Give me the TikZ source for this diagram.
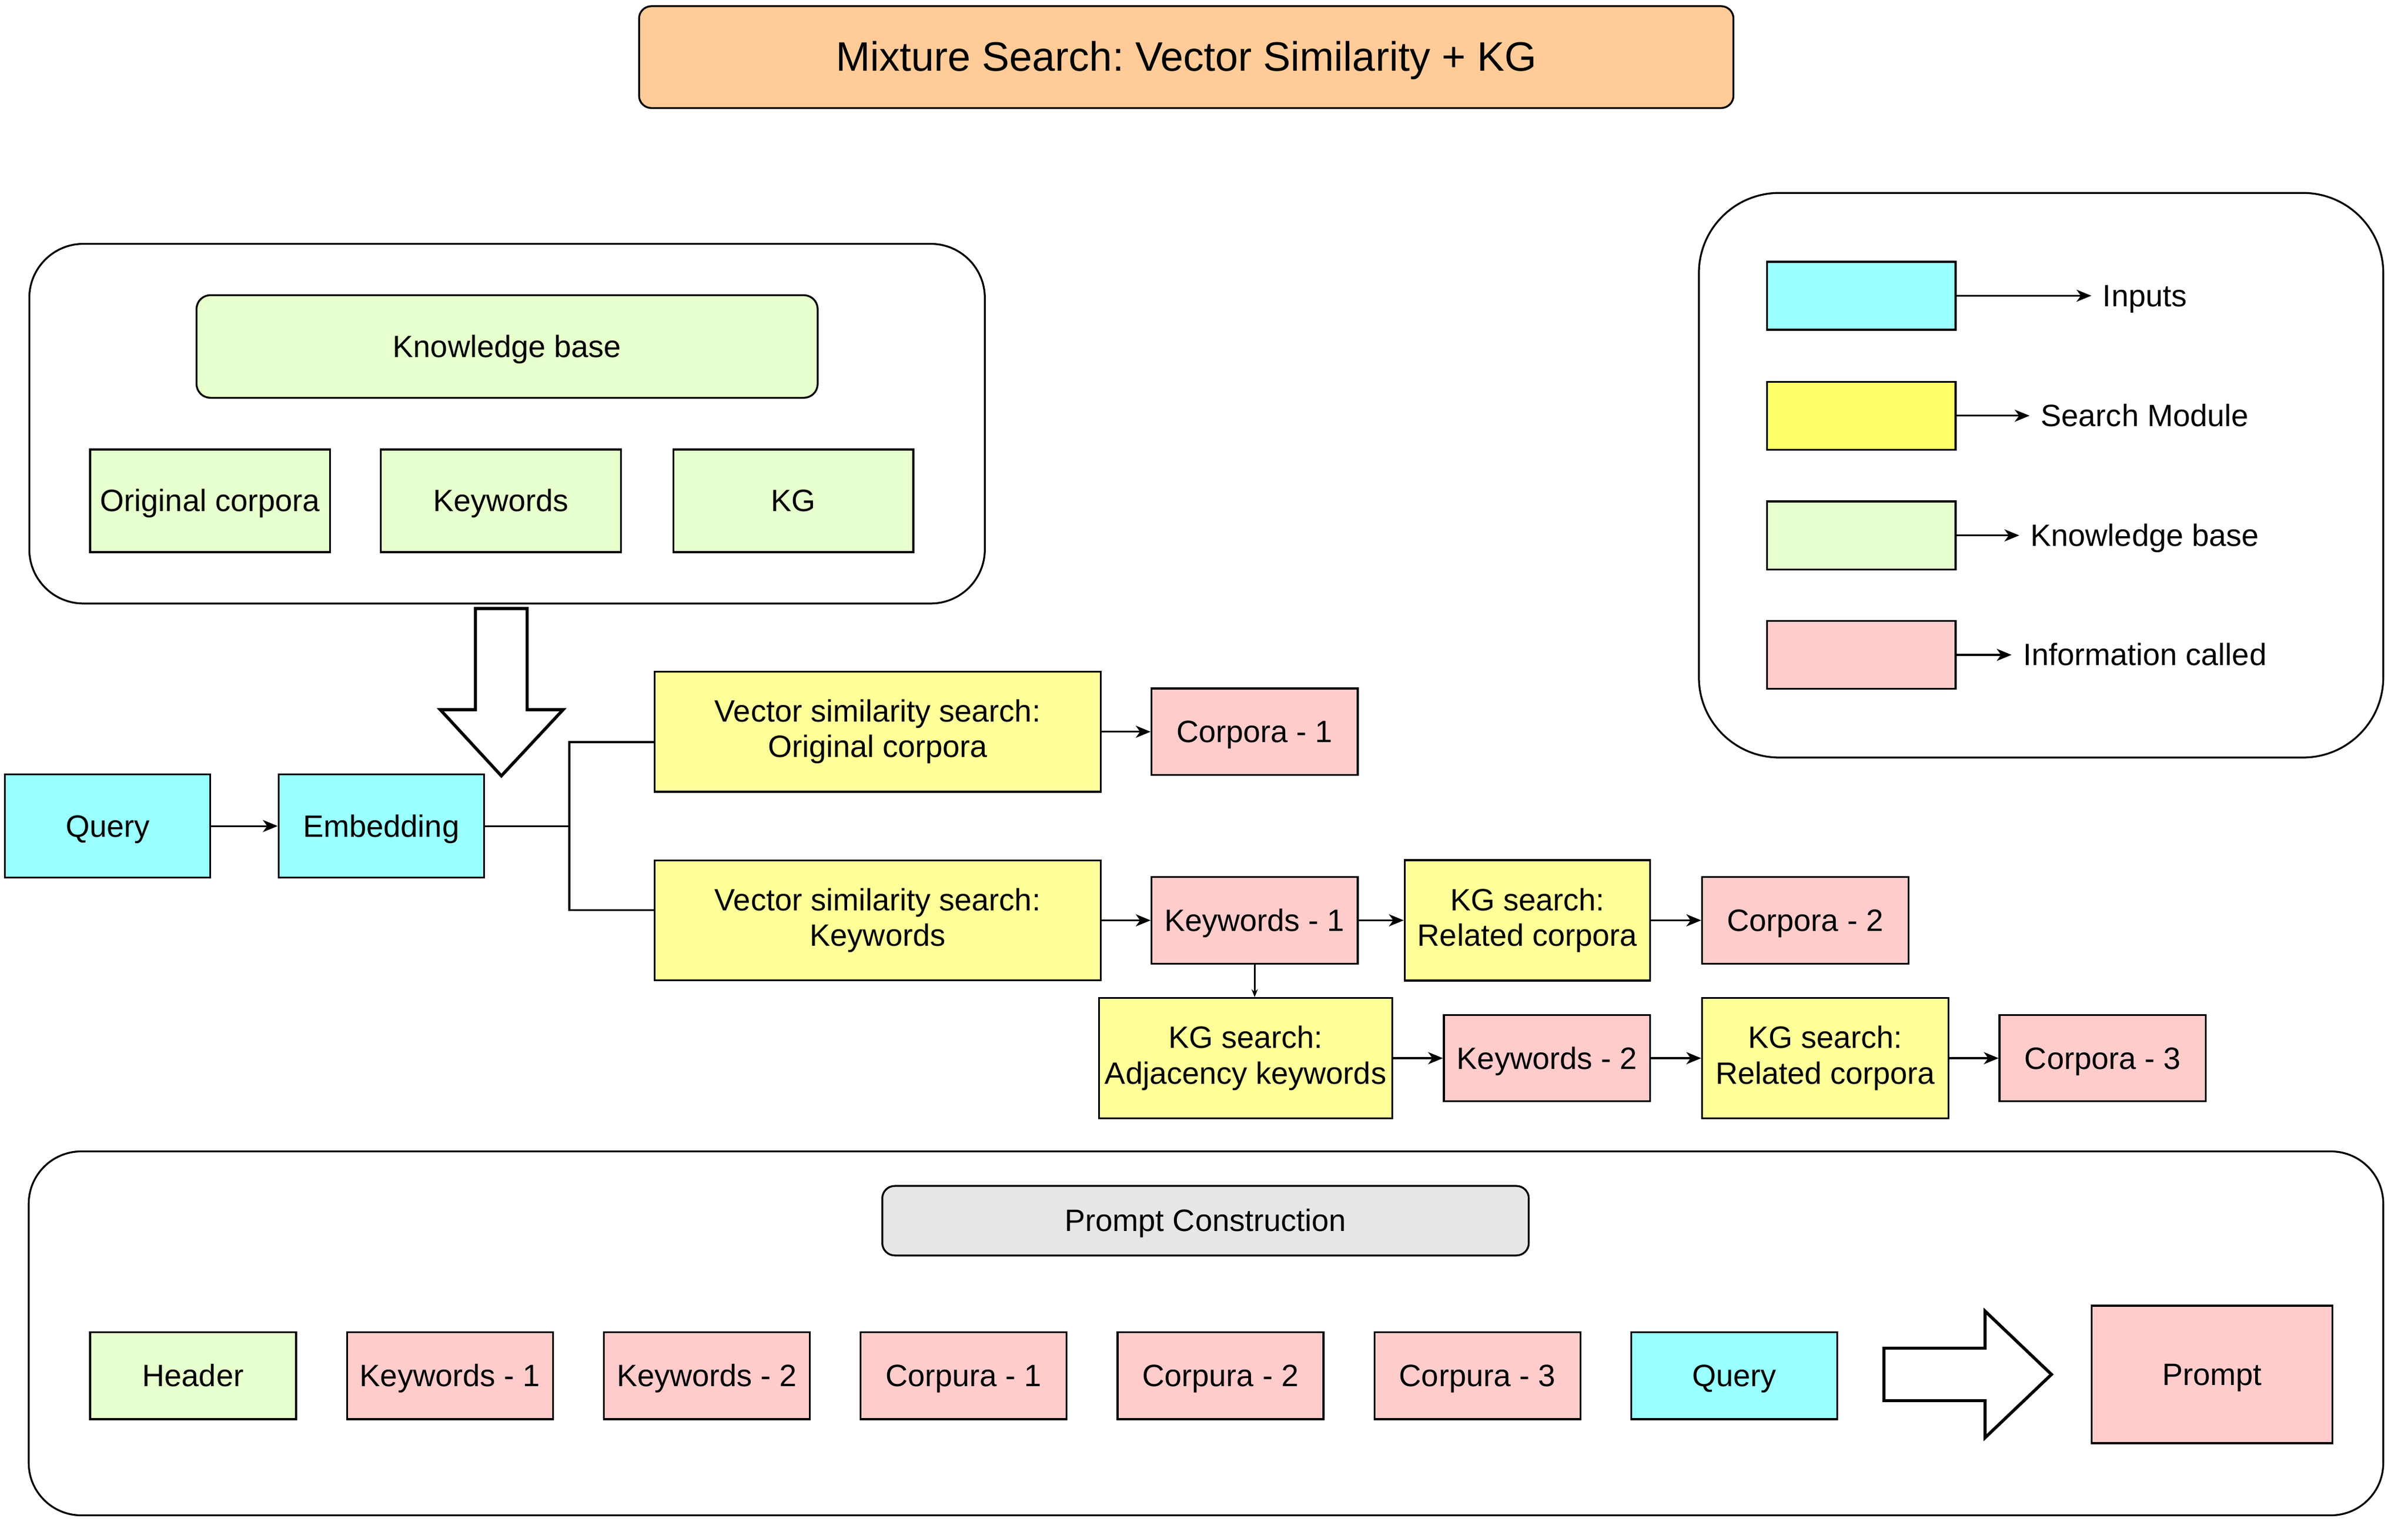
\documentclass[tikz,border=0pt]{standalone}
\usepackage{fontspec}
\setmainfont{Liberation Sans}
\usetikzlibrary{arrows.meta}
\frenchspacing
\definecolor{inputcol}{HTML}{99FFFF}
\definecolor{searchcol}{HTML}{FFFF99}
\definecolor{legsearch}{HTML}{FFFF66}
\definecolor{kbcol}{HTML}{E6FFCC}
\definecolor{infocol}{HTML}{FFCCCC}
\definecolor{titlecol}{HTML}{FFCC99}
\definecolor{promptcol}{HTML}{E6E6E6}
\begin{document}
\begin{tikzpicture}[x=0.5pt,y=-0.5pt,>={Stealth[length=4.8pt,width=3.9pt,inset=1.4pt]},
  box/.style={draw,line width=0.6pt,align=center,font=\fontsize{10}{11.5}\selectfont},
  oneline/.style={text height=9pt,text depth=2pt},
  roundframe/.style={draw,line width=0.6pt,rounded corners=#1},
  link/.style={line width=0.6pt},
  bigarrow/.style={draw,line width=1pt,line join=miter}]
\tikzstyle{every node}+=[inner sep=0pt]
\useasboundingbox (0,0) rectangle (1560,994.5);
\node [box,rounded corners=4pt,fill=titlecol,minimum width=354.5pt,minimum height=33pt,font=\fontsize{13.33}{16}\selectfont,text height=12pt,text depth=2.8pt] (title) at (768.5,37) {Mixture Search: Vector Similarity + KG};
\node [roundframe=17.5pt,minimum width=309.5pt,minimum height=116.5pt] (kbframe) at (328.5,274.5) {};
\node [roundframe=26pt,minimum width=221.7pt,minimum height=182.9pt] (legframe) at (1322.3,307.9) {};
\node [roundframe=17pt,minimum width=762.7pt,minimum height=117.9pt] (promptframe) at (781.3,863.9) {};
\node [box,oneline,rounded corners=4.5pt,fill=kbcol,minimum width=201.2pt,minimum height=33.25pt] (kb) at (328.5,224.5) {Knowledge base};
\node [box,oneline,fill=kbcol,minimum width=77.7pt,minimum height=33.25pt] (kborig) at (136.1,324.5) {Original corpora};
\node [box,oneline,fill=kbcol,minimum width=77.7pt,minimum height=33.25pt] (kbkw) at (324.5,324.5) {Keywords};
\node [box,oneline,fill=kbcol,minimum width=77.7pt,minimum height=33.25pt] (kbkg) at (514,324.5) {KG};
\draw [bigarrow] (308,394.3) -- (341.5,394.3) -- (341.5,459.8) -- (364.8,459.8) -- (324.8,502.7) -- (285.2,459.8) -- (308,459.8) -- cycle;
\node [box,oneline,fill=inputcol,minimum width=66.5pt,minimum height=33.5pt] (query) at (69.75,535.2) {Query};
\node [box,oneline,fill=inputcol,minimum width=66.5pt,minimum height=33.5pt] (embed) at (247,535.2) {Embedding};
\node [box,fill=searchcol,minimum width=144.4pt,minimum height=38.9pt] (vss1) at (568.6,474.1) {Vector similarity search:\\Original corpora};
\node [box,fill=searchcol,minimum width=144.4pt,minimum height=38.9pt] (vss2) at (568.6,596.3) {Vector similarity search:\\Keywords};
\node [box,oneline,fill=infocol,minimum width=66.8pt,minimum height=28pt] (corp1) at (812.8,474.1) {Corpora - 1};
\node [box,oneline,fill=infocol,minimum width=66.8pt,minimum height=28pt] (kw1) at (812.8,596.3) {Keywords - 1};
\node [box,fill=searchcol,minimum width=79.5pt,minimum height=39pt] (kgrel1) at (989.5,596.3) {KG search:\\Related corpora};
\node [box,oneline,fill=infocol,minimum width=66.8pt,minimum height=28pt] (corp2) at (1169.5,596.3) {Corpora - 2};
\node [box,fill=searchcol,minimum width=95pt,minimum height=39pt] (kgadj) at (807,685.6) {KG search:\\Adjacency keywords};
\node [box,oneline,fill=infocol,minimum width=66.8pt,minimum height=28pt] (kw2) at (1002.2,685.6) {Keywords - 2};
\node [box,fill=searchcol,minimum width=79.8pt,minimum height=39pt] (kgrel2) at (1182.5,685.6) {KG search:\\Related corpora};
\node [box,oneline,fill=infocol,minimum width=66.8pt,minimum height=28pt] (corp3) at (1362.2,685.6) {Corpora - 3};
\coordinate (split) at (368.8,535.2);
\draw [link,->] (query) -- (embed);
\draw [link] (embed.east) -- (split) |- ([yshift=-3.35pt]vss1.west);
\draw [link] (split) |- ([yshift=3.3pt]vss2.west);
\draw [link,->] (vss1) -- (corp1);
\draw [link,->] (vss2) -- (kw1);
\draw [link,->] (kw1) -- (kgrel1);
\draw [link,->] (kgrel1) -- (corp2);
\draw [link,-{Stealth[length=2.5pt,width=2pt,inset=0.8pt]}] (kw1.south) -- (kw1.south |- kgadj.north);
\draw [link,->] (kgadj) -- (kw2);
\draw [link,->] (kw2) -- (kgrel2);
\draw [link,->] (kgrel2) -- (corp3);
\foreach \y/\c/\t/\n in {191.6/inputcol/Inputs/inp,269.35/legsearch/Search Module/srch,346.9/kbcol/Knowledge base/know,424.3/infocol/Information called/info}
{
\node [box,fill=\c,minimum width=61.1pt,minimum height=22pt] (leg\n) at (1205.8,\y) {};
\node [oneline,inner sep=3.5pt,font=\fontsize{10}{12}\selectfont] (lab\n) at (1389.5,\y) {\t};
\draw [link,->] (leg\n) -- (lab\n);
}
\node [box,oneline,rounded corners=4pt,fill=promptcol,minimum width=209.4pt,minimum height=22.5pt] (pcons) at (781,790.9) {Prompt Construction};
\foreach \i/\n/\c/\t in {0/header/kbcol/Header,1/pkw1/infocol/Keywords - 1,2/pkw2/infocol/Keywords - 2,3/pcorp1/infocol/Corpura - 1,4/pcorp2/infocol/Corpura - 2,5/pcorp3/infocol/Corpura - 3,6/pquery/inputcol/Query}
\node [box,oneline,fill=\c,minimum width=66.7pt,minimum height=28.25pt] (\n) at (125.1+166.4*\i,891.3) {\t};
\draw [bigarrow] (1220.5,873.5) -- (1286,873.5) -- (1286,849.5) -- (1329,890.5) -- (1286,931.5) -- (1286,907.5) -- (1220.5,907.5) -- cycle;
\node [box,oneline,fill=infocol,minimum width=78pt,minimum height=44.5pt] (prompt) at (1433,890.5) {Prompt};
\end{tikzpicture}
\end{document}
